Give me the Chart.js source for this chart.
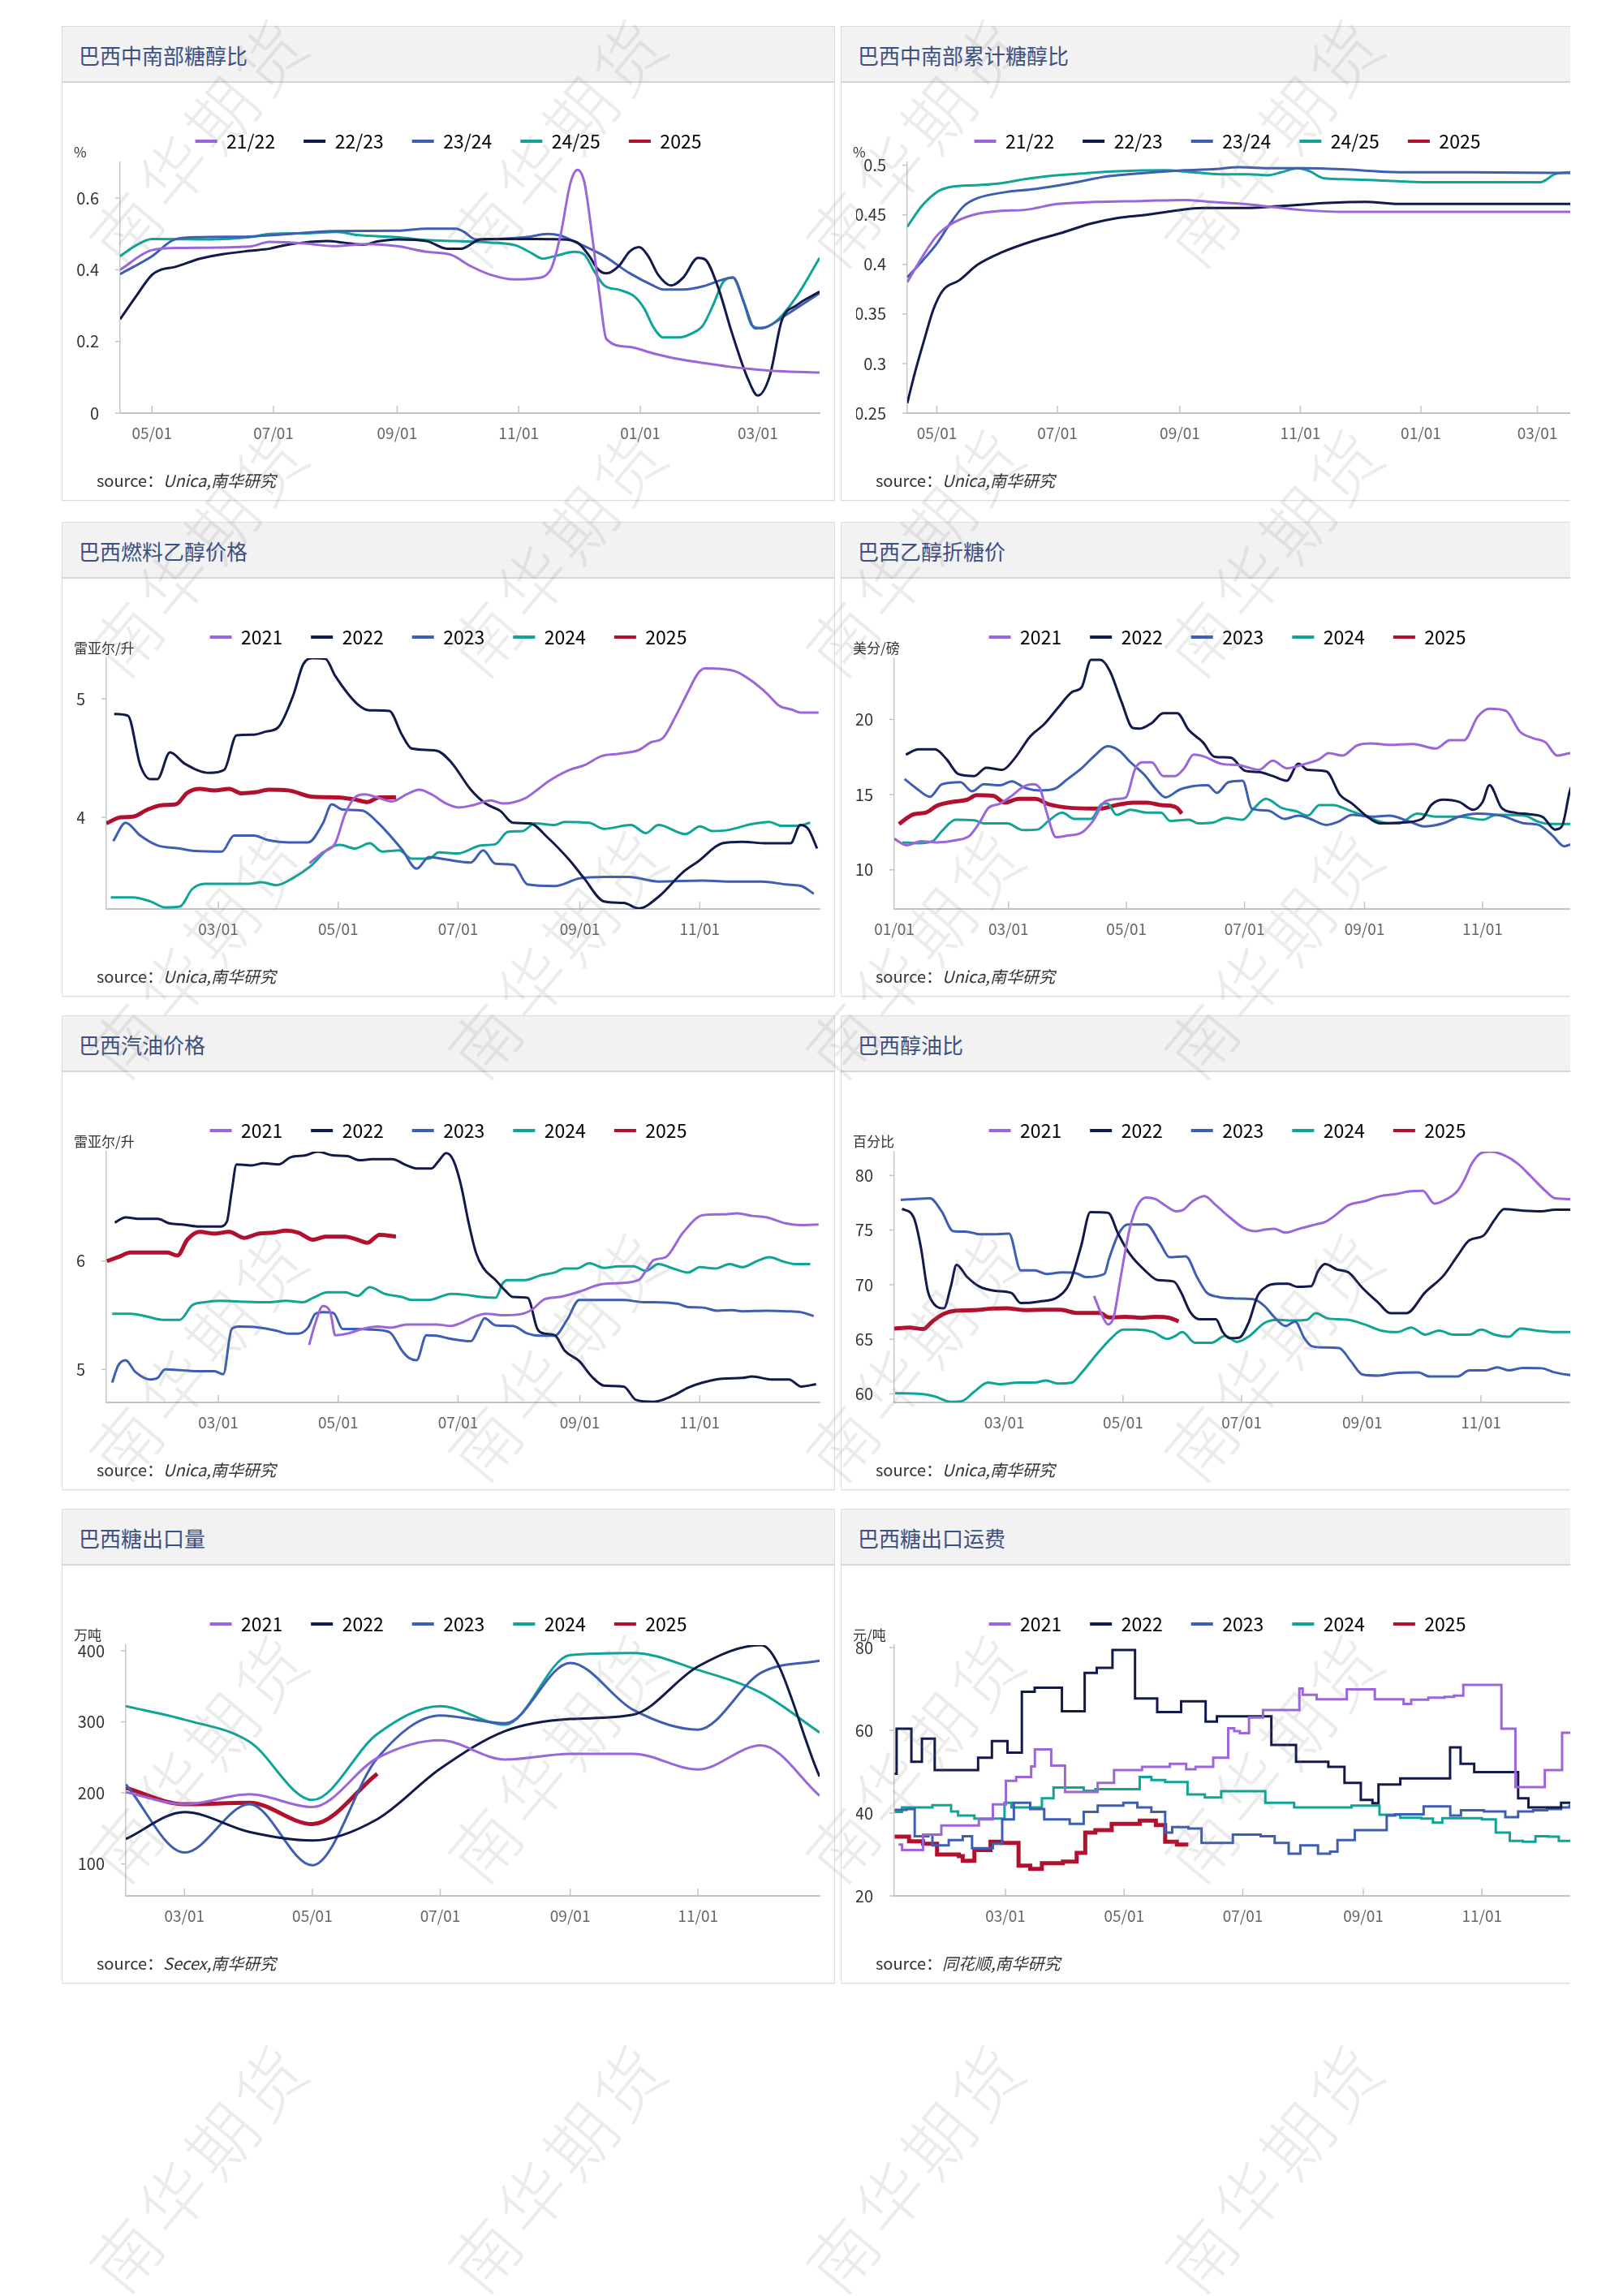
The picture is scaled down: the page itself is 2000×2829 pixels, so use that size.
<!DOCTYPE html>
<html>
<head>
<meta charset="utf-8">
<script src="https://cdn.jsdelivr.net/npm/chart.js"></script>
<style>
  html, body { margin: 0; padding: 0; background: #fff; }
  body { font-family: "Noto Sans CJK SC", "Noto Sans", sans-serif; }
  #page { position: relative; width: 2000px; height: 2829px; overflow: hidden; background: #fff; }
  .clip { position: absolute; overflow: hidden; }
  .panel { position: absolute; left: 0; top: 0; width: 953px; height: 585px; box-sizing: border-box;
           border: 1px solid #dcdcdc; background: #fff; box-shadow: 0 0 2px rgba(0,0,0,0.12); }
  .head { position: absolute; left: 0; top: 0; right: 0; height: 67px; background: #f2f2f2; border-bottom: 2px solid #d6d6d6; }
  .title { position: absolute; left: 20px; top: 34px; transform: translateY(-50%); font-size: 26px; color: #3d5080; }
  .panel canvas { position: absolute; left: 0; top: 69px; }
  .unit { position: absolute; left: 14px; top: 141px; font-size: 17px; color: #333; }
  .src { position: absolute; left: 42px; top: 544px; font-size: 20px; color: #333; }
  .src i { font-style: italic; }
  .wm { position: absolute; z-index: 10; pointer-events: none; white-space: nowrap; font-size: 84px; font-weight: 300;
        letter-spacing: 8px; color: rgba(120,120,120,0.15); transform: translate(-50%, -50%) rotate(-50deg); }
</style>
</head>
<body>
<div id="page"></div>
<script>
// ---- colours ----
const PURPLE = '#9b66da', NAVY = '#111a4a', BLUE = '#3e5eb3', TEAL = '#10a497', RED = '#b1112e';

// ---- x ticks (day index) ----
const seasonTickDays = [30, 91, 153, 214, 275, 334];           // day 0 = 04/01
const seasonTickLabels = ['05/01', '07/01', '09/01', '11/01', '01/01', '03/01'];
const yearTickDays = [59, 120, 181, 243, 304];                 // day 0 = 01/01
const yearTickLabels = ['03/01', '05/01', '07/01', '09/01', '11/01'];
const fullYearTickDays = [0, 59, 120, 181, 243, 304];
const fullYearTickLabels = ['01/01', '03/01', '05/01', '07/01', '09/01', '11/01'];

const seasonNames = ['21/22', '22/23', '23/24', '24/25', '2025'];
const yearNames = ['2021', '2022', '2023', '2024', '2025'];

// ---- 巴西中南部糖醇比 ----
const mixYTicks = [0, 0.2, 0.4, 0.6];
const mix2122 = [[14,0.40],[30,0.455],[44,0.461],[79,0.465],[89,0.478],[108,0.473],[121,0.466],[138,0.472],[153,0.466],[168,0.45],[180,0.442],[190,0.41],[200,0.386],[212,0.373],[222,0.376],[230,0.40],[235,0.497],[240,0.643],[243.5,0.679],[247,0.643],[251,0.489],[254.5,0.335],[258,0.207],[269,0.185],[282,0.166],[294,0.151],[306.5,0.14],[319,0.13],[331,0.123],[344,0.117],[365,0.113]];
const mix2223 = [[14,0.262],[22,0.326],[30,0.386],[34,0.399],[41.6,0.408],[54,0.431],[66,0.444],[79,0.453],[89,0.459],[96,0.468],[106,0.476],[118,0.48],[126,0.476],[136,0.47],[143,0.479],[153,0.485],[168,0.48],[178,0.459],[185,0.459],[195,0.485],[207.5,0.486],[222,0.486],[235,0.485],[243.5,0.476],[249.5,0.438],[253.5,0.403],[258,0.39],[264.5,0.412],[269.5,0.45],[274.5,0.463],[279,0.438],[284,0.386],[290.5,0.356],[296.5,0.378],[304,0.433],[307.5,0.429],[314,0.352],[321,0.224],[329,0.096],[334,0.049],[340,0.104],[346,0.258],[353.5,0.301],[365,0.339]];
const mix2324 = [[14,0.388],[30,0.438],[41.6,0.485],[54,0.491],[79,0.493],[96,0.499],[121,0.508],[153,0.509],[168,0.515],[182.5,0.515],[186.5,0.506],[192.5,0.485],[202.5,0.486],[217.5,0.491],[228.5,0.50],[234.5,0.496],[244.5,0.472],[257,0.438],[269.5,0.391],[281.5,0.356],[286.5,0.345],[296.5,0.345],[306.5,0.354],[316.5,0.373],[321.5,0.379],[327.5,0.301],[332.5,0.237],[338.5,0.241],[348.5,0.275],[365,0.335]];
const mix2425 = [[14,0.438],[22,0.468],[30,0.486],[59,0.485],[79,0.491],[89,0.50],[108.5,0.502],[123,0.506],[133,0.497],[153,0.491],[168,0.483],[182.5,0.48],[200,0.476],[212.5,0.468],[220,0.448],[226,0.431],[232,0.438],[242,0.45],[247,0.442],[252,0.395],[257,0.356],[264.5,0.344],[272,0.326],[277,0.292],[281.5,0.241],[286.5,0.211],[294,0.211],[301.5,0.224],[306.5,0.245],[311.5,0.301],[316.5,0.365],[321.5,0.378],[326.5,0.318],[331,0.245],[336,0.237],[343.5,0.258],[353.5,0.326],[365,0.433]];

// ---- 巴西中南部累计糖醇比 ----
const cumYTicks = [0.25, 0.3, 0.35, 0.4, 0.45, 0.5];
const cum2122 = [[15,0.382],[22.4,0.407],[30,0.429],[36.6,0.44],[48.4,0.45],[62.6,0.454],[74.4,0.455],[91,0.461],[110,0.463],[133.5,0.464],[155,0.465],[169,0.463],[185.6,0.461],[199.7,0.458],[214,0.455],[235,0.453],[264,0.453],[365,0.453]];
const cum2223 = [[15,0.26],[18.9,0.291],[23.6,0.324],[28.3,0.355],[33.1,0.374],[41.3,0.384],[50.8,0.40],[62.6,0.412],[79.2,0.424],[93.4,0.432],[107.5,0.441],[121.7,0.447],[135.9,0.45],[150.1,0.454],[164.3,0.457],[185.6,0.457],[204.5,0.459],[228,0.462],[247,0.463],[264,0.461],[365,0.461]];
const cum2324 = [[15,0.387],[22.4,0.403],[30,0.421],[36.6,0.441],[43.7,0.459],[50.8,0.467],[65,0.473],[79.2,0.476],[98.1,0.482],[117,0.489],[133.5,0.492],[155,0.495],[169,0.496],[183.2,0.498],[199.7,0.497],[216.3,0.497],[235,0.496],[264,0.493],[299,0.493],[365,0.492]];
const cum2425 = [[15,0.438],[22.4,0.459],[30,0.473],[36.6,0.478],[50.8,0.48],[62.6,0.482],[74.4,0.486],[86.3,0.489],[105.2,0.492],[121.7,0.494],[145.4,0.495],[159.5,0.493],[176,0.491],[188,0.491],[197.4,0.49],[204.5,0.493],[212.7,0.497],[218.7,0.494],[225.7,0.487],[235.2,0.486],[251.7,0.485],[275.4,0.483],[310.9,0.483],[335.7,0.483],[342.8,0.491],[350.6,0.493],[365,0.493]];

// ---- 巴西燃料乙醇价格 ----
const ethYTicks = [4, 5];
const eth2021 = [[105.4,3.612],[112.2,3.703],[118.5,3.78],[123.5,4.026],[128.5,4.168],[133.5,4.194],[139.8,4.168],[147.4,4.134],[154.9,4.194],[161.2,4.233],[167.4,4.194],[175,4.116],[181.2,4.083],[188.8,4.103],[197.6,4.142],[203.8,4.116],[215.1,4.16],[221.4,4.233],[226.4,4.297],[237.7,4.4],[245.2,4.439],[254,4.517],[262.8,4.537],[272.9,4.568],[279.1,4.633],[285.4,4.672],[291.7,4.853],[298,5.059],[303,5.214],[306.7,5.258],[315.5,5.253],[323.1,5.227],[330.6,5.15],[338.1,5.047],[344.4,4.943],[350.7,4.91],[355.7,4.884],[364.5,4.884]];
const eth2022 = [[6,4.873],[13,4.858],[19.3,4.439],[24.4,4.323],[28,4.323],[34.4,4.548],[42,4.452],[54.5,4.375],[62,4.401],[68.3,4.693],[77,4.698],[83.3,4.724],[89.6,4.762],[97.2,5.034],[102.2,5.292],[107.2,5.344],[113.5,5.339],[118.5,5.194],[129.8,4.956],[136,4.904],[146,4.899],[152.4,4.698],[157.4,4.581],[170,4.563],[177.5,4.465],[187.5,4.233],[195,4.116],[202.6,4.052],[209,3.953],[217.6,3.948],[226.4,3.832],[237.7,3.638],[245.2,3.483],[255.3,3.289],[265.3,3.276],[273,3.23],[283,3.328],[295.4,3.535],[303,3.625],[315.5,3.78],[325.5,3.793],[338,3.78],[350.2,3.78],[355.2,3.935],[359.4,3.897],[363.7,3.736]];
const eth2023 = [[5.5,3.798],[11.8,3.953],[19.3,3.845],[28,3.762],[39.4,3.736],[47,3.716],[60.8,3.711],[67,3.845],[77,3.845],[84.6,3.806],[94.6,3.788],[104.7,3.788],[112.2,3.948],[116.7,4.109],[122.3,4.065],[132.3,4.057],[139.8,3.961],[152.4,3.729],[160,3.566],[166.2,3.664],[175,3.643],[187.5,3.618],[193.8,3.721],[200,3.607],[209,3.599],[216.4,3.432],[230.2,3.419],[242.7,3.483],[255.3,3.496],[267.8,3.496],[283,3.457],[305.5,3.465],[318,3.457],[335.6,3.457],[348,3.432],[355.7,3.419],[362,3.354]];
const eth2024 = [[4.3,3.323],[15.6,3.323],[24.4,3.289],[32,3.238],[39.4,3.245],[45.7,3.393],[52,3.437],[74.6,3.437],[81,3.452],[88.4,3.426],[97.2,3.488],[106,3.587],[114.7,3.729],[121,3.767],[128.5,3.736],[136,3.78],[142.3,3.711],[151,3.721],[157.4,3.651],[166.2,3.651],[171.2,3.703],[181.2,3.695],[192.5,3.762],[200,3.773],[206.3,3.876],[214,3.884],[220,3.948],[230.2,3.935],[235.2,3.961],[247.7,3.953],[255.3,3.902],[269,3.935],[276.6,3.866],[283,3.935],[296.7,3.858],[304.2,3.922],[310.5,3.884],[318,3.891],[330.6,3.943],[339.4,3.961],[345.6,3.928],[353.2,3.928],[360.2,3.953]];
const eth2025 = [[2,3.948],[9.3,4.0],[15.6,4.005],[23,4.065],[30.6,4.103],[37.4,4.109],[43.2,4.207],[49.5,4.24],[57,4.227],[64.5,4.24],[70.8,4.202],[78.3,4.212],[84.6,4.233],[94.6,4.227],[107.2,4.173],[119.7,4.168],[128.5,4.15],[134.8,4.129],[141,4.168],[149.4,4.168]];

// ---- 巴西乙醇折糖价 ----
const eqYTicks = [10, 15, 20];
const eq2021 = [[0,12.07],[6.5,11.63],[13.7,11.91],[22.2,11.83],[31.8,11.97],[39,12.28],[43.8,13.09],[48.6,14.11],[54.7,14.41],[60.7,14.92],[66.7,15.53],[71.5,15.69],[75.2,15.43],[78.8,13.8],[83.6,12.17],[89.6,12.28],[96.9,12.48],[102.9,13.29],[108.9,14.55],[116.1,14.72],[119.7,14.82],[124.6,16.75],[128.2,17.15],[133,17.15],[139,16.24],[145,16.24],[149.8,16.75],[154.7,17.66],[159.5,17.56],[169.1,17.05],[178.7,16.95],[188.4,16.65],[195.6,17.26],[202.8,16.75],[212.5,17.05],[219.7,17.36],[224.5,17.76],[231.7,17.6],[239,18.27],[246.2,18.41],[255.8,18.31],[267.9,18.37],[279.9,18.07],[287.2,18.62],[294.4,18.62],[301.6,20.2],[307.7,20.71],[316.1,20.57],[323.3,19.19],[330.5,18.74],[336.5,18.48],[342.6,17.6],[349.3,17.76],[364,17.8]];
const eq2022 = [[6,17.66],[12.5,18.01],[21,18.01],[27,17.36],[33,16.38],[41.4,16.24],[47.5,16.79],[55.9,16.65],[61.9,17.36],[70.3,18.88],[77.6,19.7],[84.8,20.81],[92,21.83],[96.8,22.13],[101.7,23.96],[106.5,23.96],[111.3,23.25],[117.3,21.22],[123.3,19.43],[126.9,19.39],[133,19.76],[139,20.41],[146.2,20.41],[152.2,19.29],[159.5,18.48],[165.5,17.52],[173.9,17.46],[181.2,16.59],[188.4,16.5],[195.6,16.24],[202.8,15.93],[208.9,17.05],[213.7,16.65],[223.3,16.54],[230.5,14.96],[236.6,14.41],[243.8,13.6],[251,13.09],[260.7,13.13],[272.7,13.39],[277.5,14.31],[283.5,14.67],[292,14.51],[299.2,14.0],[304,14.51],[307.6,15.63],[313.7,14.15],[320.9,13.8],[328.1,13.7],[335.3,13.5],[341.4,12.68],[345,12.89],[349.3,15.33],[352,16.0]];
const eq2023 = [[5.3,16.04],[11.3,15.43],[18.5,14.86],[24.6,15.69],[34.2,15.83],[40.2,15.22],[46.3,15.69],[54.7,15.63],[60.7,15.89],[67.9,15.43],[75.2,15.28],[82.4,15.37],[89.6,16.04],[96.8,16.75],[104.1,17.66],[110.1,18.21],[116.1,17.93],[122.1,17.15],[129.4,16.3],[135.4,15.33],[140.2,14.82],[147.4,15.33],[154.7,15.57],[161.9,15.63],[166.7,15.12],[172.7,15.83],[180,15.93],[184.8,14.07],[193.2,13.94],[201.6,13.39],[208.9,13.6],[214.9,13.39],[223.3,12.99],[229.3,13.19],[236.6,13.66],[246.2,13.54],[255.8,13.6],[265.5,13.25],[273.9,12.89],[283.5,13.09],[292,13.54],[301.6,13.74],[313.7,13.6],[325.7,13.09],[332.9,12.99],[340.2,12.28],[346.2,11.57],[349.3,11.67],[364,11.7]];
const eq2024 = [[4.1,11.83],[12.5,11.77],[19.8,11.91],[24.6,12.58],[31.8,13.33],[41.4,13.29],[46.3,13.09],[58.3,13.09],[66.7,12.64],[74,12.68],[80,13.29],[86.7,13.8],[93.2,13.39],[101.7,13.39],[107.7,14.41],[110.1,14.41],[114.9,13.66],[122.1,14.0],[130.6,13.8],[137.8,13.8],[142.6,13.25],[152.2,13.33],[157.1,13.09],[164.3,13.13],[171.5,13.46],[180,13.33],[186,14.11],[192,14.72],[200.4,14.11],[207.7,13.9],[213.7,13.6],[219.7,14.31],[226.9,14.31],[234.2,14.0],[243.8,13.54],[255.8,13.09],[260.7,13.09],[270.3,13.74],[279.9,13.54],[292,13.54],[304,13.33],[311.3,13.66],[325.7,13.6],[332.9,13.19],[339,13.05],[349.3,13.05],[364,13.05]];
const eq2025 = [[2.4,13.05],[10.1,13.7],[16.1,13.8],[22.2,14.27],[29.4,14.51],[37.8,14.67],[42.6,14.96],[51.1,14.92],[57.1,14.47],[64.3,14.72],[72.8,14.72],[80,14.35],[92,14.11],[106.5,14.07],[114.9,14.31],[123.3,14.47],[130.6,14.47],[137.8,14.31],[142.6,14.27],[146.2,14.11],[148.6,13.74]];

// ---- 巴西汽油价格 ----
const gasYTicks = [5, 6];
const gas2021 = [[105.2,5.226],[108.4,5.429],[112.2,5.585],[116,5.528],[118.5,5.316],[124.8,5.331],[132.3,5.373],[139.8,5.395],[147.4,5.387],[154.9,5.415],[170,5.415],[177.5,5.401],[182.5,5.429],[190.1,5.492],[195,5.514],[205.1,5.5],[215.1,5.52],[218.9,5.556],[225.2,5.65],[232.7,5.669],[242.7,5.718],[252.8,5.782],[262.8,5.797],[272.9,5.825],[276.6,5.91],[280.4,6.008],[286.7,6.037],[295.5,6.263],[305.5,6.424],[315.5,6.432],[323.1,6.441],[330.6,6.418],[338.1,6.404],[348.2,6.347],[355.7,6.333],[364.5,6.339]];
const gas2022 = [[6.3,6.356],[11.8,6.404],[19.3,6.39],[28.1,6.39],[34.4,6.347],[40.7,6.339],[49.5,6.319],[59.5,6.319],[63.3,6.362],[65.8,6.644],[68.3,6.893],[75.8,6.884],[82.1,6.904],[89.6,6.893],[95.9,6.96],[103.4,6.977],[109.7,7.011],[117.2,6.977],[124.8,6.969],[131,6.932],[137.3,6.941],[147.4,6.941],[154.9,6.884],[159.9,6.856],[167.4,6.856],[171.2,6.927],[175,6.997],[178.7,6.927],[182.5,6.701],[186.3,6.362],[190.1,6.079],[193.8,5.938],[200.1,5.825],[205.1,5.726],[208.9,5.669],[216.4,5.661],[221.4,5.373],[225.2,5.331],[230.2,5.316],[235.2,5.175],[242.7,5.076],[249,4.935],[255.3,4.85],[265.3,4.842],[271.6,4.718],[280.4,4.701],[290.4,4.757],[298,4.831],[305.5,4.879],[315.5,4.915],[325.6,4.921],[330.6,4.935],[340.6,4.907],[349.4,4.907],[355.7,4.842],[363.2,4.864]];
const gas2023 = [[5,4.879],[8,5.034],[11.8,5.085],[16.8,4.977],[24.4,4.907],[28.1,4.921],[31.9,5.0],[40.7,4.992],[49.5,4.983],[57,4.983],[61.5,4.955],[65.8,5.373],[69.5,5.395],[79.6,5.387],[88.4,5.359],[94.6,5.331],[99.7,5.331],[104.7,5.387],[108.4,5.514],[112.2,5.528],[117.7,5.52],[122.3,5.373],[129.8,5.373],[137.3,5.367],[146.1,5.345],[152.4,5.175],[156.1,5.105],[159.9,5.085],[164.9,5.316],[169.9,5.311],[177.5,5.282],[187.5,5.26],[191.3,5.373],[194.5,5.472],[200.1,5.407],[208.9,5.401],[216.4,5.331],[222.7,5.311],[230.2,5.311],[236.5,5.458],[242.7,5.641],[250.3,5.641],[265.3,5.641],[275.4,5.621],[280.4,5.621],[292.9,5.605],[298,5.576],[305.5,5.571],[313,5.542],[320.6,5.548],[325.6,5.537],[338.1,5.542],[348.2,5.537],[355.7,5.528],[362,5.492]];
const gas2024 = [[5,5.514],[14.3,5.514],[23.1,5.486],[30.6,5.458],[39.4,5.458],[45.7,5.593],[52,5.621],[59.5,5.633],[69.5,5.627],[84.6,5.621],[93.4,5.633],[102.2,5.621],[107.2,5.661],[114.7,5.712],[123.5,5.712],[129.8,5.678],[136.1,5.76],[143.6,5.698],[152.4,5.669],[157.4,5.641],[166.2,5.641],[177.5,5.698],[185,5.689],[192.5,5.669],[200.1,5.661],[203.8,5.797],[206.3,5.825],[215.1,5.825],[222.7,5.867],[230.2,5.895],[235.2,5.932],[241.5,5.932],[247.8,5.98],[255.3,5.938],[262.8,5.952],[270.3,5.952],[276.6,5.91],[282.9,5.972],[290.4,5.932],[298,5.895],[304.2,5.944],[311.8,5.932],[319.3,5.972],[325.6,5.944],[333.1,6.0],[339.4,6.037],[346.9,5.994],[353.2,5.972],[360.2,5.972]];
const gas2025 = [[2.3,6.0],[8,6.037],[14.3,6.079],[24.4,6.079],[33.1,6.079],[38.2,6.051],[43.2,6.198],[49.5,6.271],[57,6.254],[64.5,6.271],[72,6.215],[79.6,6.254],[87.1,6.263],[93.4,6.282],[99.7,6.263],[107.2,6.198],[113.5,6.226],[123.5,6.226],[129.8,6.198],[134.8,6.169],[141.1,6.243],[149.4,6.226]];

// ---- 巴西醇油比 ----
const ratYTicks = [60, 65, 70, 75, 80];
const rat2021 = [[105.1,68.96],[109.2,67.2],[112.3,66.36],[115.2,67.06],[118.8,70.7],[123.5,75.18],[127.1,77.14],[131.9,77.98],[136.7,77.84],[141.5,77.28],[147.4,76.72],[151,76.86],[155.8,77.65],[161.8,78.12],[167.7,77.28],[174.9,76.16],[182.1,75.18],[188.1,74.9],[192.8,75.04],[197.6,75.13],[203.6,74.76],[210.8,75.13],[219.1,75.52],[223.9,75.74],[228.7,76.3],[235.9,77.28],[244.2,77.65],[252.6,78.12],[261,78.32],[267,78.54],[274.1,78.6],[280.1,77.42],[284.9,77.7],[292,78.6],[295.6,79.66],[299.2,81.06],[304,82.04],[308.8,82.18],[315.9,81.85],[323.1,81.06],[330.3,79.8],[337.4,78.54],[342.2,77.9],[348.9,77.84],[364,77.84]];
const rat2022 = [[6.4,76.95],[12.4,76.16],[16,73.5],[19.6,69.44],[23.1,68.18],[27.9,67.84],[31.5,69.86],[34.4,71.82],[39.9,70.7],[45.9,69.86],[54.2,69.44],[62.6,69.24],[67.4,68.32],[76.9,68.46],[86.5,68.88],[92.5,70.14],[98.4,73.5],[103.2,76.64],[112.3,76.58],[117.6,74.62],[123.5,72.8],[131.9,71.2],[137.9,70.42],[146.2,70.28],[149.8,69.3],[154.6,67.48],[159.4,66.83],[167.7,66.83],[171.3,65.66],[174.9,65.1],[179.7,65.15],[184.5,66.5],[189.3,69.02],[194,69.86],[200,70.08],[204.8,70.08],[209.6,69.8],[216.7,69.86],[220.3,71.26],[223.9,71.88],[229.9,71.4],[235.9,71.12],[243,69.72],[251.4,68.32],[257.4,67.39],[265.7,67.39],[275.3,69.3],[284.8,70.84],[292,72.66],[298,74.06],[305.2,74.48],[311.1,75.97],[315.9,76.92],[325.5,76.78],[335,76.72],[342.2,76.86],[364,76.86]];
const rat2023 = [[5.7,77.76],[12.4,77.84],[20.8,77.9],[26.7,76.72],[32.7,74.9],[39.9,74.85],[45.9,74.62],[55.4,74.62],[61.4,74.68],[67.4,71.32],[74.5,71.32],[80.5,70.98],[88.9,71.12],[96.1,71.04],[100.8,70.7],[110.4,70.98],[112.8,72.38],[117.6,74.62],[122.3,75.52],[131.9,75.52],[139.1,73.78],[143.8,72.52],[152.2,72.6],[158.2,70.64],[162.9,69.3],[168.9,68.88],[177.3,68.74],[186.9,68.68],[192.8,68.04],[197.6,67.06],[203.6,66.22],[208.4,66.64],[213.2,65.1],[216.7,64.4],[222.7,64.26],[231.1,64.2],[237.1,63.0],[243,61.79],[251.4,61.68],[258.6,61.88],[271.7,61.96],[277.7,61.6],[292,61.6],[298,62.16],[306.4,62.16],[312.4,62.44],[318.3,62.16],[325.5,62.38],[335,62.35],[342.2,61.96],[348.9,61.74],[364,61.6]];
const rat2024 = [[2.8,60.06],[16,60.0],[23.1,59.78],[31.5,59.27],[37.5,59.36],[43.5,60.2],[50.6,61.04],[56.6,60.9],[66.2,61.04],[74.5,61.04],[80.5,61.23],[86.5,60.95],[93.7,61.04],[98.4,61.88],[106.8,63.7],[114,65.1],[120,65.88],[127.1,65.88],[135.5,65.66],[142.7,65.04],[146.2,65.24],[150.5,65.66],[157,64.68],[165.4,64.68],[172.5,65.32],[178.5,64.76],[184.5,65.24],[192.8,66.5],[198.8,66.78],[208.4,66.72],[214.4,66.78],[219.1,67.39],[225.1,66.92],[235.9,66.78],[244.2,66.36],[252.6,65.8],[261,65.66],[268.1,66.08],[275.3,65.43],[282.5,65.8],[289.6,65.43],[298,65.43],[304,65.88],[311.1,65.43],[318.3,65.24],[324.3,65.99],[332.7,65.8],[342.2,65.66],[364,65.66]];
const rat2025 = [[2.4,65.99],[10,66.08],[17.2,65.94],[22,66.64],[27.9,67.34],[33.9,67.62],[43.5,67.67],[53,67.82],[60.2,67.84],[69.8,67.67],[79.3,67.7],[87.7,67.7],[96,67.42],[108,67.42],[112.8,67.0],[121.1,67.06],[129.5,66.97],[136.7,67.06],[143.8,66.97],[148.6,66.64]];

// ---- 巴西糖出口量 (monthly) ----
const expYTicks = [100, 200, 300, 400];
const expDays = [31, 59, 90, 120, 151, 181, 212, 243, 273, 304, 334, 362];
const exp2021 = [201, 184, 198, 180, 249, 274, 247, 255, 255, 233, 267, 196];
const exp2022 = [135, 173, 145, 133, 163, 234, 287, 304, 310, 378, 408, 223];
const exp2023 = [212, 116, 184, 98, 249, 309, 298, 383, 317, 289, 369, 386];
const exp2024 = [322, 303, 272, 190, 283, 322, 296, 394, 397, 373, 341, 285];
const exp2025 = [207, 184, 186, 156, 227];

// ---- 巴西糖出口运费 (step) ----
const frYTicks = [20, 40, 60, 80];
const fr2021 = [[4,32.4],[5.8,31.1],[16.6,34.8],[26,37.0],[45.3,38.5],[52.5,42.1],[59.2,47.8],[64.5,48.75],[72.2,51.3],[74.1,55.4],[82.5,51.5],[89.6,45.1],[106.4,47.3],[114.8,50.4],[129.2,51.2],[143.5,51.9],[151.9,50.6],[156.7,51.2],[165.8,53.4],[173.5,60.5],[176.6,59.8],[179.5,59.3],[184.2,63.1],[191.4,64.9],[210.1,70.1],[211.8,68.6],[219,67.5],[234.5,69.9],[248.9,67.5],[263.7,66.4],[267.6,67.4],[276.4,67.9],[284.8,68.1],[289.6,68.4],[294.4,71.0],[314,60.4],[321.2,46.3],[336.3,50.4],[345.2,59.4],[364,59.4]];
const fr2022 = [[2,49.5],[3,60.4],[10.6,52.4],[16,58.0],[22.6,50.4],[44.9,53.4],[52,57.4],[60,54.6],[67.4,69.3],[74,70.3],[88,64.6],[99.7,73.9],[105.9,75.1],[114,79.4],[125.6,67.7],[137,64.4],[149.3,67.0],[161.9,62.1],[167.7,63.4],[195.7,56.5],[208.4,52.4],[225,51.2],[233.3,47.3],[241.7,43.2],[247.7,42.4],[250.8,46.9],[262,48.4],[287.6,55.9],[293,51.9],[300,49.9],[322.6,43.6],[327.9,41.4],[344.7,42.5],[364,42.5]];
const fr2023 = [[2,40.8],[8,41.0],[12.3,34.4],[19.4,34.8],[21.4,32.2],[29.8,33.5],[37,34.4],[41.8,31.5],[52.5,32.6],[57.3,38.5],[63.3,42.5],[71.7,41.0],[78.9,38.5],[92,37.4],[99.2,40.3],[106.4,41.8],[119.6,42.5],[126.8,41.4],[134,40.3],[141.1,35.3],[144.7,36.6],[153.1,36.3],[159.8,32.8],[175.9,34.8],[190.2,34.4],[197.4,32.8],[204.6,30.2],[210.6,32.2],[219.7,30.2],[225.9,30.7],[229.7,33.5],[238.6,35.9],[255,39.4],[259.3,39.7],[274,41.6],[287.7,39.4],[293.2,40.7],[305,40.4],[316,39.0],[322.6,40.4],[330.3,40.7],[337.5,41.0],[344.7,41.4],[349,41.8],[364,41.8]];
const fr2024 = [[2,40.3],[5.8,41.4],[21.4,41.9],[31,40.4],[34.6,39.4],[43,38.7],[58.5,42.5],[62.1,41.4],[77.7,43.6],[83.7,46.2],[99.2,45.4],[105.2,45.8],[128,48.75],[134,48.0],[141.1,47.5],[152.6,44.5],[161.5,43.8],[169.9,45.3],[192.6,42.5],[207.4,41.4],[236.9,41.8],[251.3,39.6],[262,38.9],[272.8,38.7],[278.8,37.7],[283.6,38.8],[304,38.5],[311.1,35.3],[318.3,33.3],[325,33.1],[331.5,34.4],[338,34.3],[343.5,33.3],[364,33.3]];
const fr2025 = [[2,34.3],[9.4,33.2],[16.6,32.6],[23.8,30.0],[35,29.6],[37,28.5],[43,31.1],[51.3,33.1],[57,32.8],[65.7,27.3],[71.7,26.5],[77.7,27.9],[88.5,28.3],[95.6,30.4],[100,35.3],[105.2,35.9],[113.6,37.4],[128,38.2],[136.3,37.1],[141.1,33.1],[147.1,32.4],[153,32.4]];

// watermark grid
const wmX = [243, 685, 1126, 1568];
const wmY = [171, 676, 1171, 1667, 2162, 2667];

Chart.defaults.font.family = '"Noto Sans CJK SC", "Noto Sans", sans-serif';

const CANVAS_H = 515, PLOT_BOTTOM = 407, PLOT_TOP = 98, LEGEND_TOP = 25.5, SIDE_PAD = 18;

const tickMarks = {
  id: 'tickMarks',
  afterDraw(chart) {
    const ctx = chart.ctx, a = chart.chartArea;
    const xs = chart.scales.x, ys = chart.scales.y;
    ctx.save();
    ctx.strokeStyle = '#c4c4c4';
    ctx.lineWidth = 1.5;
    xs.ticks.forEach(t => {
      const px = xs.getPixelForValue(t.value);
      if (px < a.left + 2) return;
      ctx.beginPath(); ctx.moveTo(px, a.bottom); ctx.lineTo(px, a.bottom - 9); ctx.stroke();
    });
    ys.ticks.forEach(t => {
      const py = ys.getPixelForValue(t.value);
      ctx.beginPath(); ctx.moveTo(a.left - 6, py); ctx.lineTo(a.left, py); ctx.stroke();
    });
    ctx.restore();
  }
};

// force the legend block height so the plot top lands where the picture has it
const legendHeight = {
  id: 'legendHeight',
  beforeUpdate(chart) {
    const lg = chart.legend;
    if (lg && !lg._fixed) {
      const fit = lg.fit;
      lg.fit = function () { fit.call(this); this.height = PLOT_TOP - LEGEND_TOP; };
      lg._fixed = true;
    }
  }
};

function pairs(arr) { return arr.map(p => ({ x: p[0], y: p[1] })); }

function makePanel(p) {
  const page = document.getElementById('page');
  const clip = document.createElement('div');
  clip.className = 'clip';
  clip.style.left = p.left + 'px';
  clip.style.top = p.top + 'px';
  clip.style.width = p.clipW + 'px';
  clip.style.height = '590px';
  clip.innerHTML = '<div class="panel"><div class="head"><span class="title">' + p.title + '</span></div>' +
    '<canvas width="951" height="' + CANVAS_H + '"></canvas>' +
    '<div class="unit">' + p.unit + '</div>' +
    '<div class="src">source：<i>' + p.source + '</i></div></div>';
  page.appendChild(clip);
  const canvas = clip.querySelector('canvas');

  const colors = [PURPLE, NAVY, BLUE, TEAL, RED];
  const datasets = p.series.map((s, i) => ({
    label: p.names[i],
    data: s,
    borderColor: colors[i],
    backgroundColor: colors[i],
    borderWidth: i === 4 ? 5 : 3,
    pointRadius: 0,
    fill: false,
    cubicInterpolationMode: 'monotone',
    stepped: p.stepped ? true : false
  }));

  new Chart(canvas, {
    type: 'line',
    data: { datasets: datasets },
    options: {
      responsive: false,
      animation: false,
      devicePixelRatio: 1,
      layout: { padding: { top: LEGEND_TOP, right: SIDE_PAD, left: SIDE_PAD, bottom: 0 } },
      plugins: {
        tooltip: { enabled: false },
        legend: {
          display: true,
          position: 'top',
          labels: {
            boxWidth: 27, boxHeight: 4, padding: 35, color: '#333',
            font: { size: 23 },
            generateLabels: chart => chart.data.datasets.map((ds, i) => ({
              text: ds.label, fillStyle: ds.borderColor, strokeStyle: ds.borderColor,
              lineWidth: 0, hidden: false, datasetIndex: i
            }))
          }
        }
      },
      scales: {
        x: {
          type: 'linear', min: p.xMin, max: p.xMax,
          grid: { display: false, drawTicks: false },
          border: { display: true, color: '#c4c4c4', width: 2 },
          afterBuildTicks: sc => { sc.ticks = p.xTicks.map(v => ({ value: v })); },
          ticks: {
            autoSkip: false, maxRotation: 0, padding: 13, color: '#666', font: { size: 19 },
            callback: v => p.xLabels[p.xTicks.indexOf(v)]
          },
          afterFit: sc => { sc.height = CANVAS_H - PLOT_BOTTOM; }
        },
        y: {
          type: 'linear', min: p.yMin, max: p.yMax,
          grid: { display: false, drawTicks: false },
          border: { display: true, color: '#c8c8c8', width: 1.5 },
          afterBuildTicks: sc => { sc.ticks = p.yTicks.map(v => ({ value: v })); },
          ticks: { padding: 26, color: '#333', font: { size: 20 }, callback: v => String(v) },
          afterFit: sc => { sc.width = p.plotLeft - SIDE_PAD; }
        }
      }
    },
    plugins: [tickMarks, legendHeight]
  });
}

const L = 76, R = 1036, LW = 953, RW = 899;

makePanel({ left: L, top: 32, clipW: LW, title: '巴西中南部糖醇比', unit: '%', source: 'Unica,南华研究',
  plotLeft: 71, xMin: 14, xMax: 365, xTicks: seasonTickDays, xLabels: seasonTickLabels,
  yMin: 0, yMax: 0.70, yTicks: mixYTicks, names: seasonNames,
  series: [pairs(mix2122), pairs(mix2223), pairs(mix2324), pairs(mix2425), []] });

makePanel({ left: R, top: 32, clipW: RW, title: '巴西中南部累计糖醇比', unit: '%', source: 'Unica,南华研究',
  plotLeft: 81, xMin: 15, xMax: 365, xTicks: seasonTickDays, xLabels: seasonTickLabels,
  yMin: 0.25, yMax: 0.503, yTicks: cumYTicks, names: seasonNames,
  series: [pairs(cum2122), pairs(cum2223), pairs(cum2324), pairs(cum2425), []] });

makePanel({ left: L, top: 643, clipW: LW, title: '巴西燃料乙醇价格', unit: '雷亚尔/升', source: 'Unica,南华研究',
  plotLeft: 54, xMin: 2, xMax: 365, xTicks: yearTickDays, xLabels: yearTickLabels,
  yMin: 3.225, yMax: 5.344, yTicks: ethYTicks, names: yearNames,
  series: [pairs(eth2021), pairs(eth2022), pairs(eth2023), pairs(eth2024), pairs(eth2025)] });

makePanel({ left: R, top: 643, clipW: RW, title: '巴西乙醇折糖价', unit: '美分/磅', source: 'Unica,南华研究',
  plotLeft: 65, xMin: 0, xMax: 364, xTicks: fullYearTickDays, xLabels: fullYearTickLabels,
  yMin: 7.4, yMax: 24.07, yTicks: eqYTicks, names: yearNames,
  series: [pairs(eq2021), pairs(eq2022), pairs(eq2023), pairs(eq2024), pairs(eq2025)] });

makePanel({ left: L, top: 1251, clipW: LW, title: '巴西汽油价格', unit: '雷亚尔/升', source: 'Unica,南华研究',
  plotLeft: 54, xMin: 2, xMax: 365, xTicks: yearTickDays, xLabels: yearTickLabels,
  yMin: 4.695, yMax: 7.011, yTicks: gasYTicks, names: yearNames,
  series: [pairs(gas2021), pairs(gas2022), pairs(gas2023), pairs(gas2024), pairs(gas2025)] });

makePanel({ left: R, top: 1251, clipW: RW, title: '巴西醇油比', unit: '百分比', source: 'Unica,南华研究',
  plotLeft: 65, xMin: 2.4, xMax: 364.5, xTicks: yearTickDays, xLabels: yearTickLabels,
  yMin: 59.22, yMax: 82.18, yTicks: ratYTicks, names: yearNames,
  series: [pairs(rat2021), pairs(rat2022), pairs(rat2023), pairs(rat2024), pairs(rat2025)] });

const monthly = vals => vals.map((v, i) => ({ x: expDays[i], y: v }));
makePanel({ left: L, top: 1859, clipW: LW, title: '巴西糖出口量', unit: '万吨', source: 'Secex,南华研究',
  plotLeft: 78, xMin: 31, xMax: 362, xTicks: yearTickDays, xLabels: yearTickLabels,
  yMin: 55, yMax: 408, yTicks: expYTicks, names: yearNames,
  series: [monthly(exp2021), monthly(exp2022), monthly(exp2023), monthly(exp2024), monthly(exp2025)] });

makePanel({ left: R, top: 1859, clipW: RW, title: '巴西糖出口运费', unit: '元/吨', source: '同花顺,南华研究',
  plotLeft: 65, xMin: 1.8, xMax: 364, xTicks: yearTickDays, xLabels: yearTickLabels, stepped: true,
  yMin: 20, yMax: 80.6, yTicks: frYTicks, names: yearNames,
  series: [pairs(fr2021), pairs(fr2022), pairs(fr2023), pairs(fr2024), pairs(fr2025)] });

// watermark
const page = document.getElementById('page');
wmY.forEach(y => wmX.forEach(x => {
  const d = document.createElement('div');
  d.className = 'wm';
  d.textContent = '南华期货';
  d.style.left = x + 'px';
  d.style.top = y + 'px';
  page.appendChild(d);
}));
</script>
</body>
</html>
